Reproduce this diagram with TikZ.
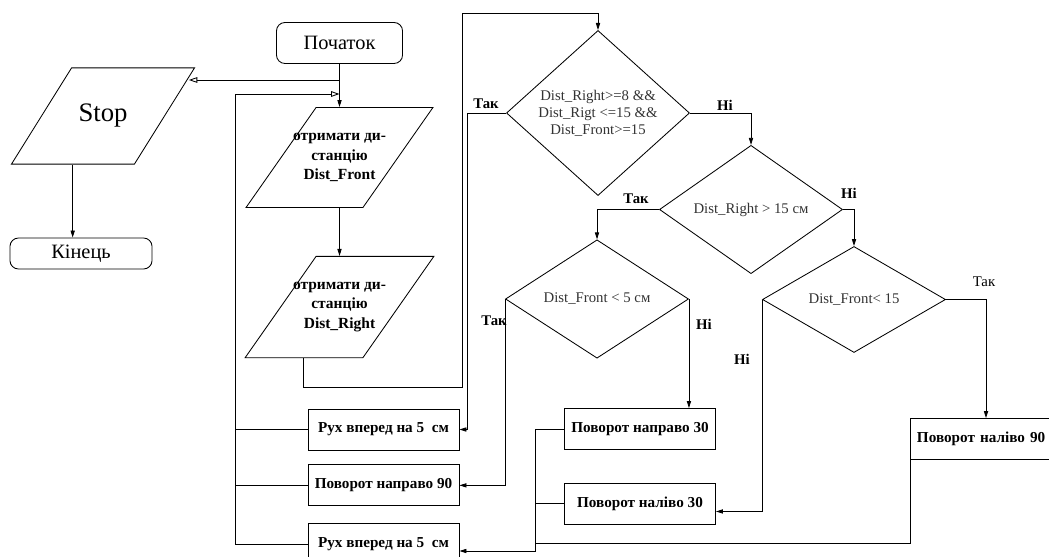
\documentclass[tikz,border=0pt]{standalone}
\usepackage{fontspec}
\setmainfont{Liberation Serif}
\usetikzlibrary{shapes.geometric, arrows.meta, positioning}

\begin{document}
\begin{tikzpicture}[
    x=0.025cm, y=-0.025cm,
    line width=0.6pt,
    term/.style={draw, rounded corners=6pt, minimum width=3.15cm,
                 minimum height=1.025cm, align=center,
                 font=\fontsize{14.5}{17}\selectfont},
    io/.style={draw, trapezium, trapezium left angle=55, trapezium right angle=125,
               trapezium stretches body=true, minimum width=4.59cm,
               inner xsep=-0.575cm, inner ysep=0.64cm, align=center,
               font=\fontsize{11}{14}\selectfont\bfseries},
    cond/.style={draw, diamond, minimum width=4.575cm, minimum height=2.65cm,
                 inner sep=0pt, align=center, text=black!80,
                 font=\fontsize{10.5}{12}\selectfont},
    act/.style={draw, minimum width=3.775cm, minimum height=1.025cm,
                inner sep=2pt, font=\fontsize{10.8}{13}\selectfont\bfseries},
    lbl/.style={inner sep=0pt, font=\fontsize{10.5}{12}\selectfont\bfseries},
    arr/.style={-{Triangle[length=5pt,width=3pt]}},
    oarr/.style={-{Triangle[open,length=6pt,width=4pt]}},
]
    \useasboundingbox (0,0) rectangle (1049,557);
    \clip (0,0) rectangle (1049,557);

    % Start / stop
    \node[term] (start) at (339.5,43) {Початок};
    \node[io, trapezium left angle=58, trapezium right angle=122,
          minimum width=4.575cm, inner xsep=0pt, inner ysep=0.91cm,
          font=\fontsize{19}{21}\selectfont] (stop) at (103,116) {Stop};
    \node[term, minimum width=3.55cm, minimum height=0.775cm] (finish) at (81,253.5) {Кінець};

    % Read sensors
    \node[io] (front) at (339.5,157.5) {отримати ди-\\станцію\\Dist\_Front};
    \node[io, below=1.2cm of front] (right) {отримати ди-\\станцію\\Dist\_Right};

    % Conditions
    \node[cond] (wall) at (598,113) {Dist\_Right>=8 \&\&\\Dist\_Rigt <=15 \&\&\\Dist\_Front>=15};
    \node[cond] (far) at (751,209.5) {Dist\_Right > 15 см};
    \node[cond] (near) at (597,299) {Dist\_Front < 5 см};
    \node[cond] (ahead) at (854,299.5) {Dist\_Front< 15};

    % Actions
    \node[act] (fwdA) at (383.5,429.5) {Рух вперед на 5\ \ см};
    \node[act, below=0.35cm of fwdA] (right90) {Поворот направо 90};
    \node[act, below=0.425cm of right90] (fwdB) {Рух вперед на 5\ \ см};
    \node[act] (right30) at (640,429) {Поворот направо 30};
    \node[act, below=0.825cm of right30] (left30) {Поворот наліво 30};
    \node[act, text width=3.45cm, inner xsep=3.3pt, align=left] (left90) at (986,439) {Поворот наліво 90};

    % Branch labels
    \node[lbl] (yes1) at (486,104) {Так};
    \node[lbl] (no1) at (725,105) {Ні};
    \node[lbl] (yes2) at (636,199) {Так};
    \node[lbl] (no2) at (849,193) {Ні};
    \node[lbl] (yes3) at (494,321) {Так};
    \node[lbl] (no3) at (704,324) {Ні};
    \node[lbl] (no4) at (742,359) {Ні};
    \node[lbl, font=\fontsize{10.5}{12}\selectfont] (yes4) at (984,282) {Так};

    % Helper points
    \coordinate (split) at (339.5,80);
    \coordinate (back) at (339.5,94);
    \coordinate (loop) at (235,94);
    \coordinate (top) at (462,13);
    \coordinate (merge) at (535,551);
    \coordinate (joint) at (535,543);

    % Arrows
    \draw[arr] (start) -- (front);
    \draw[oarr] (split) -- (stop.24 |- split);
    \draw[arr] (stop.bottom side) -- (stop.bottom side |- finish.north);
    \draw[arr] (front) -- (right);
    \draw[arr] (right.bottom side) -- ++(0,29) -| (top) -| (wall.north);
    \draw[arr] (wall.west) -- ++(-39,0) |- (fwdA.east);
    \draw[arr] (wall.east) -| (far.north);
    \draw[arr] (far.west) -| (near.north);
    \draw[arr] (far.east) -| (ahead.north);
    \draw[arr] (near.west) |- (right90.east);
    \draw[arr] (near.east) -- (near.east |- right30.north);
    \draw[arr] (ahead.east) -| (left90.north);
    \draw[arr] (ahead.west) |- ([yshift=-0.19cm]left30.east);
    \draw[arr] (right30.west) -| (merge) -- (fwdB.east |- merge);
    \draw (left30.west) -- (left30.west -| merge);
    \draw (left90.south west) |- (joint);
    \draw (fwdA.west) -- (fwdA.west -| loop);
    \draw (right90.west) -- (right90.west -| loop);
    \draw[oarr] (fwdB.west) -| (loop) -- (back);
\end{tikzpicture}
\end{document}
